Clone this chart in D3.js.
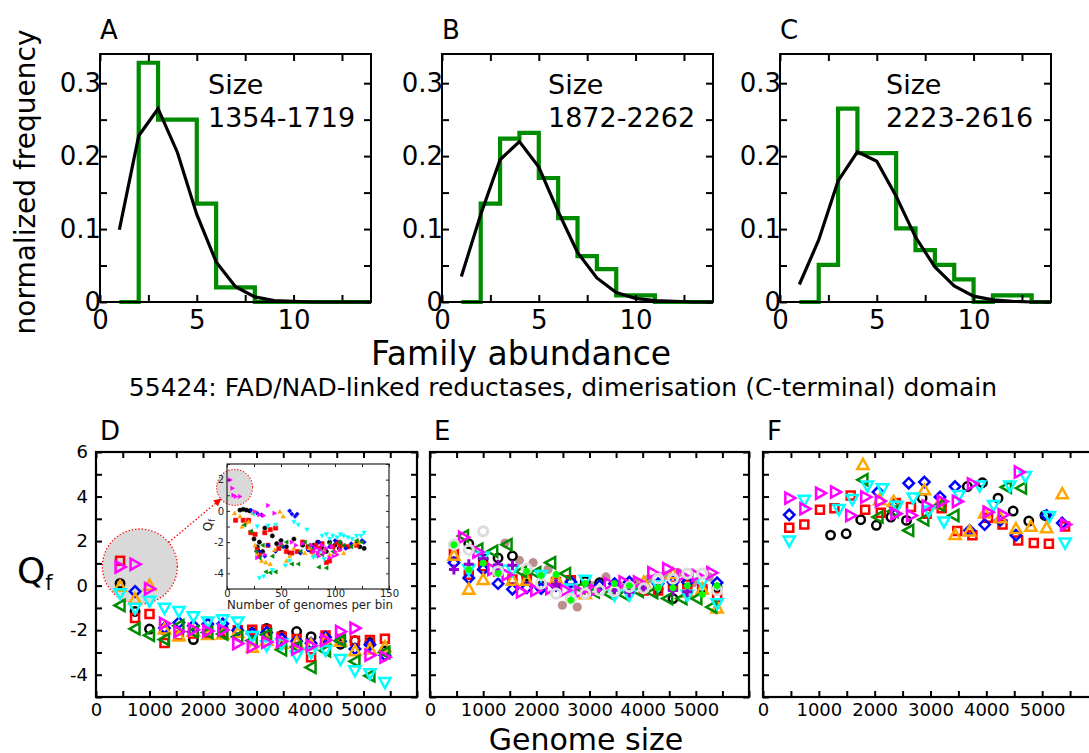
<!DOCTYPE html>
<html><head><meta charset="utf-8">
<script src="https://cdn.jsdelivr.net/npm/d3@7"></script>
<style>body{margin:0;background:#fff}svg{display:block}</style>
</head><body>
<svg id="c" width="1089" height="753"></svg>
<script>
// ---------------- DATA ----------------
// Panels A-C: histogram bins [1,2],[2,3],...,[13,14] and fitted curve at x = 1..14
const binEdges = [1,2,3,4,5,6,7,8,9,10,11,12,13,14];
const fitX = [1,2,3,4,5,6,7,8,9,10,11,12,13,14];
const histA = [0, 0.328, 0.25, 0.25, 0.135, 0.02, 0.02, 0, 0, 0, 0, 0, 0];
const histB = [0, 0.135, 0.224, 0.232, 0.17, 0.115, 0.063, 0.045, 0.009, 0.009, 0, 0, 0];
const histC = [0, 0.051, 0.265, 0.204, 0.204, 0.101, 0.071, 0.051, 0.031, 0, 0.009, 0.009, 0];
const fitA = [0.099, 0.228, 0.265, 0.205, 0.12, 0.055, 0.021, 0.007, 0.002, 0.001, 0, 0, 0, 0];
const fitB = [0.035, 0.12, 0.195, 0.22, 0.185, 0.124, 0.068, 0.033, 0.013, 0.005, 0.002, 0.001, 0, 0];
const fitC = [0.024, 0.085, 0.166, 0.206, 0.193, 0.145, 0.089, 0.048, 0.022, 0.008, 0.003, 0.001, 0, 0];
const sizeA = "1354-1719", sizeB = "1872-2262", sizeC = "2223-2616";
const histXTicks = [0, 5, 10];
const histYTicks = [0, 0.1, 0.2, 0.3];

// Panels D-F: genome size bins
const genomeBins = [450, 730, 1000, 1280, 1550, 1820, 2090, 2370, 2650, 2920, 3190, 3470, 3750, 4020, 4290, 4570, 4840, 5120, 5400];
const qXTicks = [0, 1000, 2000, 3000, 4000, 5000];
const qYTicks = [-4, -2, 0, 2, 4, 6];

// Panel D
const dBlack   = [0.10, -1.16, -1.95, -2.00, null, -2.42, -2.15, -2.10, -1.98, -2.10, -1.92, -2.24, -2.06, -2.29, -2.35, -2.63, -2.47, -2.55, -2.93];
const dRed     = [1.12, -1.45, -1.27, -2.57, -2.24, -2.15, -2.18, -2.05, -2.00, -1.98, -1.98, -2.30, -2.40, -3.22, -2.24, -2.40, -2.47, -2.44, -2.39];
const dBlue    = [null, -0.26, null, -1.90, -1.66, -1.80, -1.72, -1.71, -2.00, -2.15, -2.10, -2.39, -2.50, -2.59, -2.32, -2.50, -2.84, -2.65, -3.12];
const dOrange  = [-0.03, -0.60, 0.02, -1.95, -2.26, -2.05, -2.20, -2.17, -2.10, -2.77, -2.45, -2.60, -2.55, -2.65, -2.45, -2.50, -2.92, -2.85, -2.74];
const dGreen   = [-0.89, -1.94, -2.23, -2.42, -1.80, -2.07, -2.10, -2.17, -2.30, -2.47, -2.20, -2.88, -2.75, -3.67, -2.92, -2.47, -3.40, -4.05, -3.00];
const dCyan    = [-0.36, -1.02, -0.70, -1.02, -1.16, -1.40, -1.63, -1.53, -1.63, -2.28, -2.70, -2.62, -3.16, -3.02, -2.91, -3.32, -3.82, -3.96, -4.35];
const dMagenta = [0.84, 0.96, -0.14, -1.70, -2.06, -1.98, -2.04, -1.99, -2.60, -2.74, -2.54, -2.50, -2.85, -2.70, -2.45, -2.06, -1.91, -3.12, -3.21];

// Panel D inset: [genomes per bin, Qf]
const insetBlack   = [[12,0.05],[15,0.1],[18,0.05],[21,0.0],[25,-1.8],[30,-2.0],[35,-1.1],[42,-1.6],[50,-1.9],[55,-2.3],[62,-1.8],[70,-2.2],[80,-2.2],[88,-2.4],[95,-2.0],[100,-2.2],[110,-2.3],[123,-2.3],[127,-2.4],
  [28,-2.3],[33,-2.6],[46,-2.1],[58,-2.7],[76,-2.5],[84,-2.0],[92,-2.6],[104,-2.4],[120,-2.1]];
const insetRed     = [[8,-0.6],[15,-0.6],[20,-0.6],[22,-1.4],[26,-1.5],[28,-2.5],[35,-1.4],[40,-1.2],[45,-1.1],[55,-2.6],[60,-2.7],[65,-2.6],[75,-2.3],[82,-2.2],[88,-2.1],[92,-3.3],[98,-2.3],[105,-2.2],[120,-2.2],
  [30,-2.8],[38,-2.2],[48,-2.4],[70,-2.0],[79,-2.6],[86,-2.4],[95,-3.2],[102,-2.0],[112,-2.3]];
const insetBlue    = [[22,0.05],[28,-0.15],[32,-0.25],[38,-2.2],[45,-2.6],[58,0.0],[60,-0.2],[63,-0.35],[65,-0.2],[75,-2.5],[85,-2.0],[95,-2.3],[105,-2.0],[115,-2.1],[125,-1.9],
  [30,-2.6],[35,-2.9],[52,-2.3],[68,-2.7],[80,-2.3],[90,-2.6],[100,-1.9],[110,-2.4],[127,-2.0]];
const insetOrange  = [[7,-0.15],[12,-0.35],[14,-1.0],[17,-0.8],[20,-0.7],[24,-0.15],[28,-2.7],[32,-3.2],[40,-3.4],[49,-0.05],[52,-0.35],[55,-3.2],[62,-2.4],[72,-2.7],[80,-2.8],[90,-2.5],[100,-2.6],[108,-2.7],[118,-2.1],
  [26,-2.2],[36,-3.3],[44,-2.5],[58,-2.9],[76,-2.4],[85,-2.7],[95,-2.8],[104,-2.5],[122,-2.0]];
const insetGreen   = [[16,-0.9],[22,-1.3],[27,-2.6],[30,-3.0],[36,-3.9],[40,-3.95],[45,-3.9],[50,-2.2],[60,-3.4],[66,-3.4],[72,-2.0],[80,-2.4],[85,-3.6],[92,-3.65],[98,-2.6],[104,-2.0],[115,-2.3],[125,-2.0],
  [33,-2.2],[42,-2.9],[55,-2.0],[68,-2.6],[76,-2.2],[88,-2.8],[95,-2.1],[108,-2.2],[120,-1.9]];
const insetCyan    = [[25,-0.2],[28,-1.0],[30,-4.3],[34,-4.2],[38,-0.95],[42,-3.8],[45,-0.9],[54,-3.5],[58,-3.2],[62,-0.7],[66,-0.9],[74,-1.2],[80,-3.0],[86,-2.6],[92,-1.5],[98,-1.6],[105,-1.5],[112,-1.7],[120,-1.6],[127,-1.4],
  [88,-1.6],[95,-1.8],[102,-1.7],[108,-1.6],[116,-1.8],[124,-1.6],[82,-2.9],[90,-3.1]];
const insetMagenta = [[3,1.98],[5,1.45],[6,1.0],[8,0.92],[12,0.92],[26,-0.05],[30,-0.25],[34,-0.3],[38,0.35],[44,-0.15],[28,-3.0],[35,-2.8],[50,-2.1],[60,-2.0],[70,-2.1],[80,-2.6],[85,-2.9],[90,-2.7],[95,-3.0],[100,-2.6],[105,-2.5],
  [78,-2.2],[82,-2.4],[86,-2.5],[88,-2.2],[92,-2.4],[97,-2.3],[102,-2.8],[84,-2.7],[99,-2.9],[64,-2.2]];
const insetXTicks = [0, 50, 100, 150];
const insetYTicks = [-4, -2, 0, 2];

// Panel E
const eShiftedX = [350, 630, 900, 1180, 1450, 1720, 1990, 2270, 2550, 2820, 3090, 3370, 3650, 3920, 4190, 4470, 4740, 5020, 5300];
const eBlack   = [null, 1.88, 1.21, 1.24, 1.33, 0.43, 0.01, null, null, 0.19, 0.13, null, null, null, -0.15, -0.58, null, -0.10, -0.10];
const eRed     = [1.43, 0.49, 0.87, 0.64, 0.27, 0.31, null, 0.16, 0.24, null, null, null, null, -0.22, -0.22, 0.00, 0.05, -0.15, -0.51];
const eBlue    = [1.03, 0.34, 0.73, 0.09, -0.16, -0.10, -0.13, 0.00, 0.16, null, 0.00, 0.09, 0.16, null, 0.09, 0.16, 0.16, null, 0.13];
const eOrange  = [1.36, -0.16, 0.28, null, 0.24, 0.24, null, 0.34, null, -0.36, null, null, null, 0.16, null, 0.54, -0.30, -0.15, -1.00];
const eGreen   = [null, 2.23, 1.63, 1.54, 1.84, 0.64, 0.58, 1.03, 0.54, -0.10, -0.28, -0.36, -0.40, -0.25, -0.31, -0.58, -0.58, -0.58, -0.96];
const eCyan    = [null, 0.72, 1.29, 0.69, 0.69, null, 0.46, null, -0.15, 0.24, null, -0.43, -0.43, null, 0.00, null, -0.43, 0.13, -0.81];
const eMagenta = [null, 2.17, 1.51, 0.73, 0.49, -0.28, -0.21, -0.13, -0.21, -0.28, -0.21, 0.09, 0.16, 0.16, 0.58, 0.76, 0.46, 0.46, 0.58];
const ePurple  = [0.73, 0.96, 1.21, 0.94, 0.91, null, null, 0.06, null, null, null, -0.21, -0.30, -0.12, null, -0.22, -0.27, null, null];
const eGray    = [1.84, 1.61, 2.44, 0.64, null, 0.76, 0.09, -0.36, -0.58, -0.36, -0.21, -0.25, -0.06, -0.12, 0.31, 0.31, 0.54, 0.54, -0.21];
const eLime    = [1.84, 0.72, 1.00, 0.55, null, 0.64, 0.46, 0.50, -0.65, 0.10, null, 0.10, 0.00, null, -0.10, -0.10, 0.00, -0.40, 0.00];
const eRosyX   = [1410, 1680, 1940, 2220, 2490, 2770, 3040, 3310, 3570, 3850, 4120, 4410, 4670, 4950, 5250];
const eRosy    = [1.91, 1.14, 1.03, 0.73, -0.88, -0.96, -0.01, 0.39, 0.00, 0.16, 0.31, 0.46, 0.58, 0.13, 0.39];

// Panel F
const fBlackX = [1210, 1490, 1750, 2030, 2290, 2570, 2850, 3660, 3930, 4210, 4480, 4760, 5050];
const fBlackY = [2.27, 2.33, 2.96, 2.71, 3.08, 2.93, 3.93, 4.45, 4.62, 3.93, 3.35, 2.90, 3.15];
const fRedX = [470, 740, 1020, 1280, 1570, 1830, 2110, 2380, 2650, 2930, 3200, 3480, 3750, 4030, 4290, 4570, 4850, 5120, 5410];
const fRedY = [2.60, 2.75, 3.41, 3.48, 4.05, 3.41, 3.27, 3.71, 3.53, 3.23, 3.48, 2.45, 2.26, 3.05, 2.75, 2.03, 1.91, 1.88, 2.66];
const fBlueX = [470, 2060, 2340, 2610, 2890, 3170, 3440, 3700, 3970, 4250, 4530, 5080, 5360];
const fBlueY = [3.18, 4.20, 3.60, 4.60, 4.65, 3.98, 4.45, 2.48, 2.74, 2.93, 2.26, 3.15, 2.81];
const fOrangeX = [1790, 2090, 2340, 2890, 3150, 3440, 3700, 3970, 4250, 4530, 4800, 5080, 5360];
const fOrangeY = [5.44, 3.86, 3.78, 4.30, 3.68, 2.29, 2.45, 3.26, 3.05, 2.56, 2.66, 2.60, 4.13];
const fGreenX = [1790, 2060, 2330, 2610, 2880, 3170, 3420, 4360, 4630];
const fGreenY = [4.75, 3.08, 3.33, 2.48, 2.96, 3.60, 3.15, 4.42, 4.38];
const fCyanX = [470, 740, 1360, 1600, 1870, 2140, 2400, 2690, 2970, 3240, 3510, 3880, 4130, 4420, 4700, 5130, 5410];
const fCyanY = [2.00, 3.83, 3.42, 3.87, 4.47, 4.35, 3.56, 3.93, 3.35, 2.86, 4.05, 4.47, 3.60, 4.47, 4.90, 3.10, 1.91];
const fMagentaX = [480, 750, 1030, 1300, 1570, 1840, 2100, 2380, 2660, 2940, 3210, 3480, 3750, 4030, 4300, 4590, 5420];
const fMagentaY = [3.93, 3.45, 4.15, 4.20, 3.15, 3.98, 3.80, 3.23, 3.15, 3.57, 3.78, 3.78, 4.57, 3.30, 3.18, 5.10, 2.74];

// ---------------- DRAWING ----------------
const FONT = "DejaVu Sans, Verdana, sans-serif";
const svg = d3.select("#c").attr("font-family", FONT);
const COL = {black:"#000000", red:"#ff0000", blue:"#0000ff", orange:"#ffa500", green:"#008b00",
  cyan:"#00ffff", magenta:"#ff00ff", purple:"#9400d3", gray:"#dcdcdc", rosy:"#bc8f8f", lime:"#00ff00"};

const shapes = {
  circle: r => `M${r},0A${r},${r} 0 1,1 ${-r},0A${r},${r} 0 1,1 ${r},0Z`,
  square: r => `M${-r},${-r}H${r}V${r}H${-r}Z`,
  diamond: r => `M0,${-r}L${r},0L0,${r}L${-r},0Z`,
  up: r => `M0,${-r}L${r},${r*0.8}L${-r},${r*0.8}Z`,
  down: r => `M0,${r}L${r},${-r*0.8}L${-r},${-r*0.8}Z`,
  left: r => `M${-r},0L${r*0.8},${-r}L${r*0.8},${r}Z`,
  right: r => `M${r},0L${-r*0.8},${-r}L${-r*0.8},${r}Z`,
  plus: r => `M${-r},0H${r}M0,${-r}V${r}`,
  star: r => `M${-r},0H${r}M0,${-r}V${r}M${-r*0.7},${-r*0.7}L${r*0.7},${r*0.7}M${-r*0.7},${r*0.7}L${r*0.7},${-r*0.7}`
};
const shapeR = {circle:4.2, square:4, diamond:5.2, up:5.6, down:5.6, left:5.6, right:5.6, plus:5, star:3.5};

function axes(g, x, y, o) {
  const [x0, x1] = x.range(), [y0, y1] = y.range();
  const style = (a) => {
    a.select(".domain").remove();
    a.selectAll("line").attr("stroke", o.tickColor || "#000").attr("stroke-width", o.sw);
    a.selectAll("text").attr("font-size", o.fs).attr("font-family", FONT).attr("fill", o.textColor || "#000");
  };
  g.append("g").attr("transform", `translate(0,${y0})`)
    .call(d3.axisBottom(x).tickValues(o.xTicks).tickSize(-o.tick).tickPadding(o.xPad).tickFormat(o.xLab)).call(style);
  g.append("g").attr("transform", `translate(0,${y1})`)
    .call(d3.axisTop(x).tickValues(o.xTicks).tickSize(-o.tick).tickFormat("")).call(style);
  g.append("g").attr("transform", `translate(${x0},0)`)
    .call(d3.axisLeft(y).tickValues(o.yTicks).tickSize(-o.tick).tickPadding(o.yPad).tickFormat(o.yLab)).call(style);
  g.append("g").attr("transform", `translate(${x1},0)`)
    .call(d3.axisRight(y).tickValues(o.yTicks).tickSize(-o.tick).tickFormat("")).call(style);
  g.append("rect").attr("x", x0).attr("y", y1).attr("width", x1 - x0).attr("height", y0 - y1)
    .attr("fill", "none").attr("stroke", o.frameColor || "#000").attr("stroke-width", o.frameW);
}

function text(t, x, y, fs, anchor) {
  return svg.append("text").attr("x", x).attr("y", y).attr("font-size", fs)
    .attr("text-anchor", anchor || "start").attr("fill", "#000").text(t);
}

// ---- Panels A-C ----
const histPanels = [
  {left:100, label:"A", hist:histA, fit:fitA, size:sizeA, sx:208},
  {left:442, label:"B", hist:histB, fit:fitB, size:sizeB, sx:548},
  {left:780, label:"C", hist:histC, fit:fitC, size:sizeC, sx:886}
];
const minorX = d3.range(0, 14.01, 2.5);
const minorY = d3.range(0, 0.3401, 0.05).map(v => +v.toFixed(2));
histPanels.forEach(p => {
  const x = d3.scaleLinear().domain([0, 14]).range([p.left, p.left + 271]);
  const y = d3.scaleLinear().domain([0, 0.34]).range([302, 54]);
  const g = svg.append("g");
  const pts = p.hist.map((v, i) => [binEdges[i], v]);
  pts.push([binEdges[binEdges.length - 1], p.hist[p.hist.length - 1]]);
  g.append("path").attr("d", d3.line().x(d => x(d[0])).y(d => y(d[1])).curve(d3.curveStepAfter)(pts))
    .attr("fill", "none").attr("stroke", "#008b00").attr("stroke-width", 4.2);
  g.append("path").attr("d", d3.line().x((d, i) => x(fitX[i])).y(d => y(d))(p.fit))
    .attr("fill", "none").attr("stroke", "#000").attr("stroke-width", 3.2);
  axes(g, x, y, {
    xTicks: minorX, yTicks: minorY, tick: 7, sw: 2, frameW: 2, fs: 26, xPad: 9, yPad: -1,
    xLab: d => histXTicks.includes(d) ? String(d) : "",
    yLab: d => histYTicks.some(t => Math.abs(t - d) < 1e-9) ? (d === 0 ? "0" : d.toFixed(1)) : ""
  });
  text(p.label, p.left, 39, 26);
  text("Size", p.sx, 94, 27);
  text(p.size, p.sx, 127, 27);
});
svg.append("text").attr("transform", "translate(35,182) rotate(-90)").attr("text-anchor", "middle")
  .attr("font-size", 28).text("normalized frequency");
text("Family abundance", 521, 365, 33, "middle");
text("55424: FAD/NAD-linked reductases, dimerisation (C-terminal) domain", 563, 396, 25, "middle");

// ---- Panels D-F ----
const qMinorX = d3.range(0, 6001, 500);
const qMinorY = d3.range(-5, 6.01, 1);
function qPanel(left, width, label, showY) {
  const x = d3.scaleLinear().domain([0, 6000]).range([left, left + width]);
  const y = d3.scaleLinear().domain([-5, 6]).range([697, 452]);
  const g = svg.append("g");
  axes(g, x, y, {
    xTicks: qMinorX, yTicks: qMinorY, tick: 6, sw: 2, frameW: 2.2, fs: 18, xPad: 6, yPad: 8,
    xLab: d => qXTicks.includes(d) ? String(d) : "",
    yLab: d => (showY && qYTicks.includes(d)) ? String(d) : ""
  });
  text(label, left + 4, 440, 26);
  return {x, y, g};
}
function drawSeries(g, xs, ys, x, y, color, shape, opts) {
  opts = opts || {};
  const r = (opts.r || shapeR[shape]);
  const data = ys.map((v, i) => [xs[i], v]).filter(d => d[1] !== null);
  g.append("g").selectAll("path").data(data).join("path")
    .attr("transform", d => `translate(${x(d[0])},${y(d[1])})`)
    .attr("d", shapes[shape](r))
    .attr("fill", opts.fill ? color : "none")
    .attr("stroke", opts.noStroke ? "none" : color)
    .attr("stroke-width", opts.sw || 2.5);
}

// D
const D = qPanel(96, 321, "D", true);
const bigC = {x: 820, y: 0.86};
const bigR = 37.5;
D.g.append("circle").attr("cx", D.x(bigC.x)).attr("cy", D.y(bigC.y)).attr("r", bigR)
  .attr("fill", "#d9d9d9").attr("stroke", "#ff0000").attr("stroke-width", 1.3).attr("stroke-dasharray", "1.3,2");
const dSeries = [[dBlack,"black","circle"],[dRed,"red","square"],[dBlue,"blue","diamond"],[dOrange,"orange","up"],
  [dGreen,"green","left"],[dCyan,"cyan","down"],[dMagenta,"magenta","right"]];
dSeries.forEach(s => drawSeries(D.g, genomeBins, s[0], D.x, D.y, COL[s[1]], s[2]));

// Inset
const ix = d3.scaleLinear().domain([0, 150]).range([227, 389]);
const iy = d3.scaleLinear().domain([-5, 3]).range([589, 464]);
const ig = svg.append("g");
ig.append("rect").attr("x", 227).attr("y", 464).attr("width", 162).attr("height", 125).attr("fill", "#fff");
const smallC = {x: 7, y: 1.5};
ig.append("circle").attr("cx", ix(smallC.x)).attr("cy", iy(smallC.y)).attr("r", 18)
  .attr("fill", "#d9d9d9").attr("stroke", "#ff0000").attr("stroke-width", 1.1).attr("stroke-dasharray", "1.2,1.8");
const insetSeries = [[insetBlack,"black","circle"],[insetRed,"red","square"],[insetBlue,"blue","diamond"],[insetOrange,"orange","up"],
  [insetGreen,"green","left"],[insetCyan,"cyan","down"],[insetMagenta,"magenta","right"]];
insetSeries.forEach(s => {
  ig.append("g").selectAll("path").data(s[0]).join("path")
    .attr("transform", d => `translate(${ix(d[0])},${iy(d[1])})`)
    .attr("d", shapes[s[2]](2.1)).attr("fill", COL[s[1]]).attr("stroke", COL[s[1]]).attr("stroke-width", 0.6);
});
axes(ig, ix, iy, {
  xTicks: d3.range(0, 151, 25), yTicks: d3.range(-5, 3.01, 1), tick: 3, sw: 1, frameW: 1.2, fs: 10, xPad: 1, yPad: 3,
  xLab: d => insetXTicks.includes(d) ? String(d) : "",
  yLab: d => insetYTicks.includes(d) ? String(d) : "",
  textColor: "#222", tickColor: "#222", frameColor: "#222"
});
ig.append("text").attr("x", 310).attr("y", 609).attr("text-anchor", "middle").attr("font-size", 11.8)
  .attr("fill", "#222").text("Number of genomes per bin");
const qlab = ig.append("text").attr("transform", "translate(212,525) rotate(-90)").attr("text-anchor", "middle")
  .attr("font-size", 12).attr("fill", "#222");
qlab.append("tspan").text("Q");
qlab.append("tspan").attr("font-size", 8).attr("dy", 3).text("f");

// Arrow from big circle to small circle
const c1 = [D.x(bigC.x), D.y(bigC.y)], c2 = [ix(smallC.x), iy(smallC.y)];
const dx = c2[0] - c1[0], dy = c2[1] - c1[1], L = Math.hypot(dx, dy), ux = dx / L, uy = dy / L;
svg.append("defs").append("marker").attr("id", "ah").attr("viewBox", "0 0 10 10").attr("refX", 9).attr("refY", 5)
  .attr("markerWidth", 6).attr("markerHeight", 6).attr("orient", "auto")
  .append("path").attr("d", "M0,0L10,5L0,10Z").attr("fill", "#ff0000");
svg.append("line").attr("x1", c1[0] + ux * bigR).attr("y1", c1[1] + uy * bigR)
  .attr("x2", c2[0] - ux * 18).attr("y2", c2[1] - uy * 18)
  .attr("stroke", "#ff0000").attr("stroke-width", 1.3).attr("stroke-dasharray", "1.5,2").attr("marker-end", "url(#ah)");

// E
const E = qPanel(430, 319, "E", false);
drawSeries(E.g, eRosyX, eRosy, E.x, E.y, COL.rosy, "circle", {fill:true, r:4.6, noStroke:true});
const eSeries = [[genomeBins,eBlack,"black","circle"],[genomeBins,eRed,"red","square"],[genomeBins,eBlue,"blue","diamond"],
  [genomeBins,eOrange,"orange","up"],[eShiftedX,eGreen,"green","left"],[genomeBins,eCyan,"cyan","down"],
  [eShiftedX,eMagenta,"magenta","right"]];
eSeries.forEach(s => drawSeries(E.g, s[0], s[1], E.x, E.y, COL[s[2]], s[3]));
drawSeries(E.g, genomeBins, ePurple, E.x, E.y, COL.purple, "plus", {sw:3});
drawSeries(E.g, genomeBins, eGray, E.x, E.y, COL.gray, "circle", {sw:3, r:4.6});
drawSeries(E.g, genomeBins, eLime, E.x, E.y, COL.lime, "star", {sw:2.2});

// F
const F = qPanel(763, 335, "F", false);
const fSeries = [[fBlackX,fBlackY,"black","circle"],[fRedX,fRedY,"red","square"],[fBlueX,fBlueY,"blue","diamond"],
  [fOrangeX,fOrangeY,"orange","up"],[fGreenX,fGreenY,"green","left"],[fCyanX,fCyanY,"cyan","down"],
  [fMagentaX,fMagentaY,"magenta","right"]];
fSeries.forEach(s => drawSeries(F.g, s[0], s[1], F.x, F.y, COL[s[2]], s[3]));

// Y label Qf and x label
const qf = svg.append("text").attr("x", 17).attr("y", 583).attr("font-size", 36);
qf.append("tspan").text("Q");
qf.append("tspan").attr("font-size", 21).attr("dy", 7).text("f");
text("Genome size", 586, 750, 30, "middle");
</script>
</body></html>
